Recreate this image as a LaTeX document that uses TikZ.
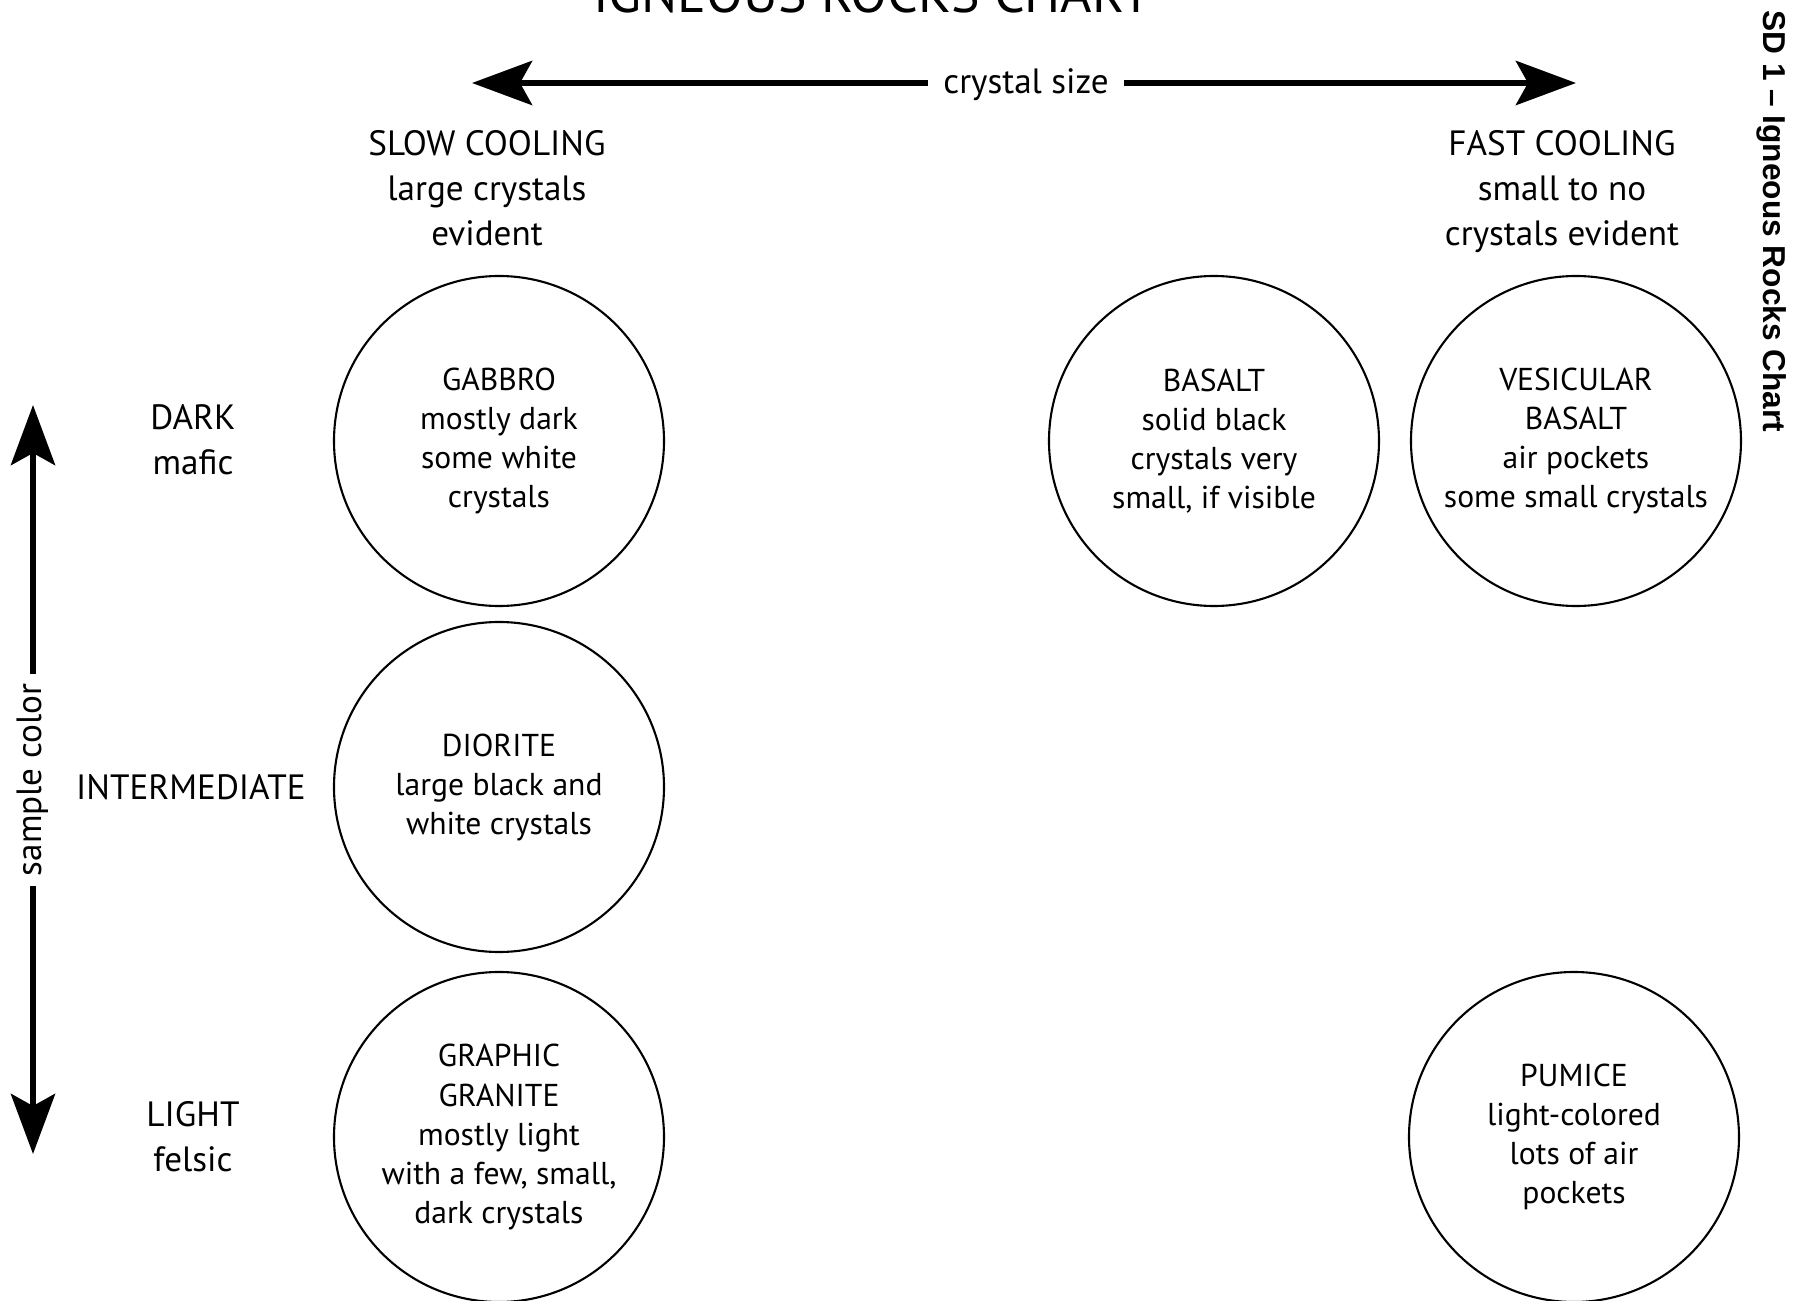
\documentclass[tikz,border=0pt]{standalone}
\usepackage{fontspec}
\setmainfont{PT Sans}
\newfontfamily\tagfont{Liberation Sans}
\usetikzlibrary{arrows.meta}

\tikzset{
  rock/.style={draw, circle, line width=0.6pt, minimum size=33mm, inner sep=0pt,
    align=center, font=\fontsize{9}{11.1}\selectfont},
  heading/.style={align=center, font=\fontsize{10}{12.8}\selectfont},
  axislabel/.style={inner sep=1.5mm, font=\fontsize{10}{12}\selectfont},
  bigarrow/.style={line width=1.9pt, ->},
}

\begin{document}
\begin{tikzpicture}[x=0.1mm, y=-0.1mm, >={Stealth[length=6mm, width=4.4mm, inset=1.2mm]}]
\useasboundingbox (0,0) rectangle (1804,1301);

% Title, cut off at the top of the sheet
\node (title) [anchor=base, font=\fontsize{15.3}{18}\selectfont] at (872,13) {IGNEOUS ROCKS CHART};

% Crystal size axis
\coordinate (sizeL) at (472,83);
\coordinate (sizeR) at (1576,83);
\node (size) [axislabel, text depth=0pt] at (1026,81) {crystal size};
\draw [bigarrow] (size.west |- sizeL) -- (sizeL);
\draw [bigarrow] (size.east |- sizeR) -- (sizeR);

% Sample color axis
\coordinate (colorT) at (33,405);
\coordinate (colorB) at (33,1154);
\node (color) [axislabel, inner sep=0.9mm, rotate=90] at (33,780) {sample color};
\draw [bigarrow] (color) -- (colorT);
\draw [bigarrow] (color) -- (colorB);

% Cooling headings
\node (slow) [heading] at (487,188) {SLOW COOLING\\large crystals\\evident};
\node (fast) [heading] at (1562,191.5) {FAST COOLING\\small to no\\crystals evident};

% Colour classes
\node (dark) [heading] at (193,440) {DARK\\mafic};
\node (inter) [heading] at (191,787) {INTERMEDIATE};
\node (light) [heading] at (193,1137) {LIGHT\\felsic};

% The rock samples
\foreach \name/\x/\y/\txt in {
  gabbro/499/441/{GABBRO\\mostly dark\\some white\\crystals},
  diorite/499/787/{DIORITE\\large black and\\white crystals},
  granite/499/1137/{GRAPHIC\\GRANITE\\mostly light\\with a few, small,\\dark crystals},
  basalt/1214/441/{BASALT\\solid black\\crystals very\\small, if visible},
  vesicular/1576/441/{VESICULAR\\BASALT\\air pockets\\some small crystals},
  pumice/1574/1137/{PUMICE\\light-colored\\lots of air\\pockets}} {
  \node (\name) [rock] at (\x,\y) {\txt};
}

% Sheet tag
\node (tag) [anchor=west, rotate=-90, font=\tagfont\bfseries\fontsize{9}{11}\selectfont]
  at (1772,-2) {SD 1 – Igneous Rocks Chart};

\end{tikzpicture}
\end{document}
